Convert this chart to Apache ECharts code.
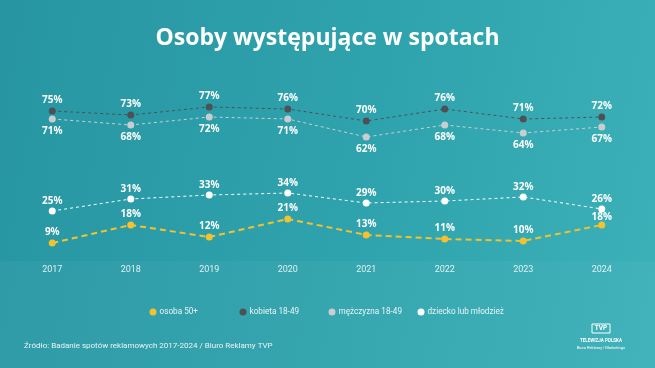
<!DOCTYPE html>
<html>
<head>
<meta charset="utf-8">
<script src="https://cdn.jsdelivr.net/npm/echarts@6/dist/echarts.min.js"></script>
<style>
html,body{margin:0;padding:0;}
#c{width:655px;height:368px;background:linear-gradient(100deg,#2796a2 0%,#2fa3ad 55%,#3cb1b8 100%);}
</style>
</head>
<body>
<div id="c"></div>
<script>
const categories = ['2017','2018','2019','2020','2021','2022','2023','2024'];
const osoba50 = [9,18,12,21,13,11,10,18];
const kobieta = [75,73,77,76,70,76,71,72];
const mezczyzna = [71,68,72,71,62,68,64,67];
const dziecko = [25,31,33,34,29,30,32,26];
const seriesNames = ['osoba 50+','kobieta 18-49','mężczyzna 18-49','dziecko lub młodzież'];

const chart = echarts.init(document.getElementById('c'), null, {renderer:'canvas'});
const lblFont = {fontFamily:'Open Sans', fontSize:10, fontWeight:'bold', color:'#ffffff'};
function mk(name, data, color, width, dash, symSize, pos, dist){
  return {
    name, type:'line', data, symbol:'circle', symbolSize:symSize,
    itemStyle:{color:color},
    lineStyle:{color:color, width:width, type:dash},
    label:{show:true, position:pos, distance:dist, formatter:'{c}%', ...lblFont},
    labelLayout:{hideOverlap:false},
    emphasis:{disabled:true}, animation:false, z: 3
  };
}
const legendLefts = [149.5, 239.5, 328.5, 417.5];
const legends = seriesNames.map((n,i)=>({
  data:[n], left:legendLefts[i], top:308, padding:0, itemWidth:7, itemHeight:7, itemGap:0, icon:'circle',
  textStyle:{color:'#e8f5f6', fontFamily:'Roboto', fontSize:8.2, padding:[0,0,0,-2]}
}));
const s50 = mk('osoba 50+', osoba50, '#f2c230', 2, [6,4], 7, 'top', 2);
s50.data = osoba50.map((v,i)=> i===osoba50.length-1 ? {value:v, label:{distance:-1}} : v);
chart.setOption({
  backgroundColor:'transparent',
  animation:false,
  title:{text:'Osoby występujące w spotach', left:'center', top:22,
    textStyle:{color:'#ffffff', fontFamily:'Open Sans', fontWeight:'bold', fontSize:23}},
  grid:{left:13, right:14, top:61, bottom:107, containLabel:false},
  xAxis:{type:'category', data:categories, boundaryGap:true,
    axisLine:{show:false}, axisTick:{show:false},
    axisLabel:{color:'#dff1f2', fontFamily:'Roboto', fontSize:9, margin:4}},
  yAxis:{type:'value', min:0, max:100, show:false, splitLine:{show:false}},
  legend:legends,
  graphic:[
    {type:'rect', shape:{x:0,y:261,width:655,height:107}, style:{fill:'rgba(255,255,255,0.035)'}, z:-1, silent:true},
    {type:'text', left:24, top:342, style:{text:'Źródło: Badanie spotów reklamowych 2017-2024 / Biuro Reklamy TVP', fill:'#e8f5f6', font:'8px Roboto'}},
    {type:'rect', shape:{x:592,y:324,width:18,height:9}, style:{fill:'none', stroke:'#ffffff', lineWidth:1}},
    {type:'text', x:601, y:328.5, style:{text:'TVP', fill:'#ffffff', font:'bold 6.5px Roboto', align:'center', verticalAlign:'middle'}},
    {type:'text', x:601, y:341, style:{text:'TELEWIZJA POLSKA', fill:'#ffffff', font:'bold 4.5px Roboto', align:'center', verticalAlign:'middle'}},
    {type:'text', x:601, y:348, style:{text:'Biuro Reklamy | Marketingu', fill:'#ffffff', font:'4px Roboto', align:'center', verticalAlign:'middle'}}
  ],
  series:[
    s50,
    mk('kobieta 18-49', kobieta, '#4d5156', 1, [3,3], 7, 'top', 2.5),
    mk('mężczyzna 18-49', mezczyzna, '#c9cdd0', 1, [3,3], 7, 'bottom', 4),
    mk('dziecko lub młodzież', dziecko, '#ffffff', 1, [3,3], 7, 'top', 1)
  ]
});
</script>
</body>
</html>
